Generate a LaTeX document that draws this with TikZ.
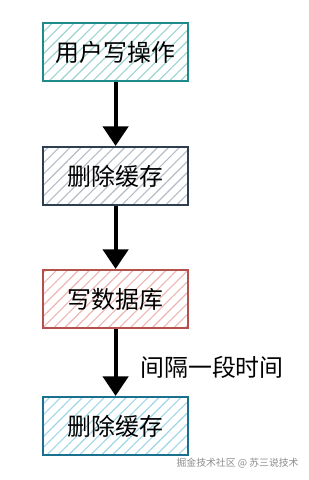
\documentclass[tikz,border=0pt]{standalone}
\usepackage{fontspec}
\setmainfont{Noto Sans CJK SC}
\usetikzlibrary{arrows.meta,patterns.meta}

\definecolor{tealline}{HTML}{1F8A8A}
\definecolor{tealhatch}{HTML}{9AD3CF}
\definecolor{slateline}{HTML}{2E3D4F}
\definecolor{slatehatch}{HTML}{B4BCC6}
\definecolor{redline}{HTML}{B5514D}
\definecolor{redhatch}{HTML}{EDB5B2}
\definecolor{blueline}{HTML}{1B6F8F}
\definecolor{bluehatch}{HTML}{9FD6E6}

\tikzset{
  stepbox/.style={draw=#1line,line width=1.5pt,minimum width=3.625cm,minimum height=1.45cm,
    pattern={Lines[angle=45,distance=5.5pt,line width=0.8pt]},pattern color=#1hatch,
    font=\fontsize{17}{20}\selectfont},
  flow/.style={-{Triangle[width=18pt,length=14pt]},line width=2.8pt}
}

\begin{document}
\begin{tikzpicture}
\useasboundingbox (0,0) rectangle (7.7,12);
\node[stepbox=teal] (write) at (2.89,10.7){用户写操作};
\node[stepbox=slate] (del1) at (2.89,7.6){删除缓存};
\node[stepbox=red] (db) at (2.89,4.525){写数据库};
\node[stepbox=blue] (del2) at (2.89,1.35){删除缓存};
\draw[flow] (write)--(del1);
\draw[flow] (del1)--(db);
\draw[flow] (db)--(del2);
\node[font=\fontsize{17}{20}\selectfont] (wait) at (5.3,2.825){间隔一段时间};
\node[font=\fontsize{7}{9}\selectfont,text=black!45] (mark) at (5.94,0.425){掘金技术社区 @ 苏三说技术};
\end{tikzpicture}
\end{document}
